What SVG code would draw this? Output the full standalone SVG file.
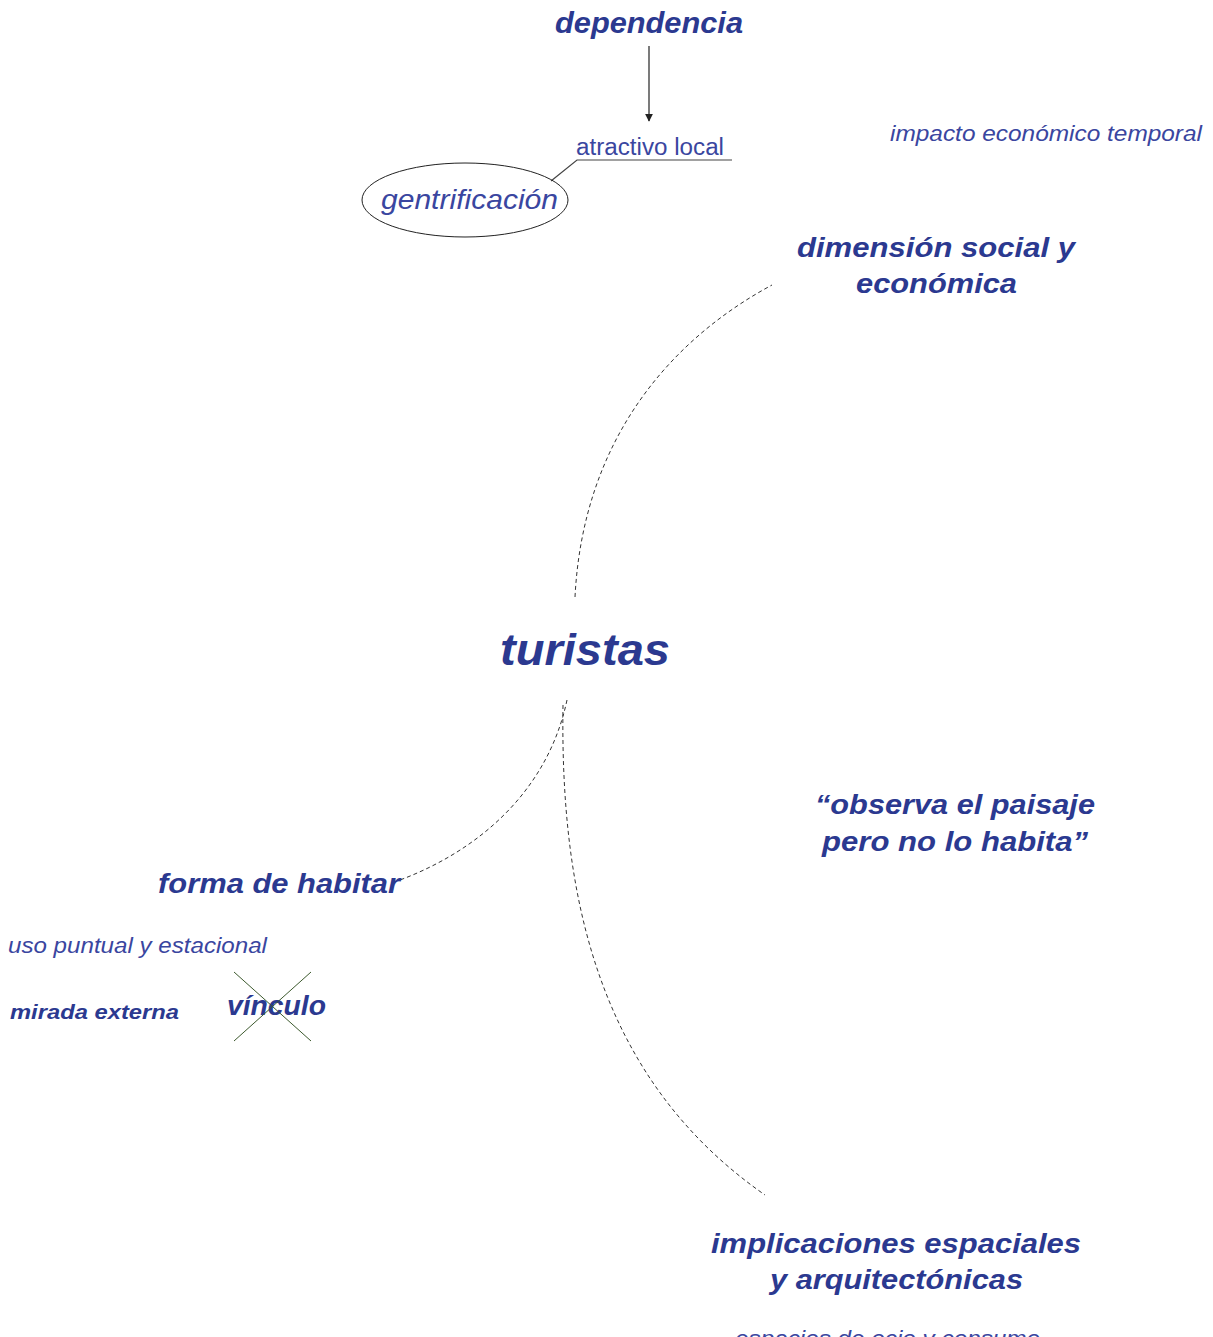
<svg xmlns="http://www.w3.org/2000/svg" width="1213" height="1337" viewBox="0 0 1213 1337">
<style>
.b{font-family:"Liberation Sans",Arial,sans-serif;font-weight:bold;font-style:italic;fill:#2b3990}
.l{font-family:"Liberation Sans",Arial,sans-serif;font-weight:normal;font-style:italic;fill:#3a46a0}
.r{font-family:"Liberation Sans",Arial,sans-serif;font-weight:normal;fill:#3a46a0}
.d{fill:none;stroke:#333;stroke-width:1;stroke-dasharray:4 3}
</style>
<defs>
<marker id="ah" viewBox="0 0 10 10" refX="9" refY="5" markerWidth="8" markerHeight="8" orient="auto" markerUnits="userSpaceOnUse">
<path d="M0,0 L10,5 L0,10 z" fill="#222"/>
</marker>
</defs>
<rect width="1213" height="1337" fill="#fff"/>
<g id="connectors">
<line x1="649" y1="46" x2="649" y2="121" stroke="#222" stroke-width="1.2" marker-end="url(#ah)"/>
<polyline points="732,160 577,160 551,181" fill="none" stroke="#444" stroke-width="1.2"/>
<path class="d" d="M575,597 C583,440 670,340 772,285"/>
<path class="d" d="M567,700 C548,790 480,850 400,880"/>
<path class="d" d="M563,705 C560,900 600,1080 765,1195"/>
</g>
<g id="dependencia"><text class="b" x="555" y="33" font-size="30" textLength="188" lengthAdjust="spacingAndGlyphs">dependencia</text></g>
<g id="atractivo"><text class="r" x="576" y="155" font-size="23" textLength="148" lengthAdjust="spacingAndGlyphs">atractivo local</text></g>
<g id="gentrificacion">
<ellipse cx="465" cy="200" rx="103" ry="37" fill="none" stroke="#222" stroke-width="1"/>
<text class="l" x="381" y="209" font-size="28" textLength="177" lengthAdjust="spacingAndGlyphs">gentrificación</text>
</g>
<g id="impacto"><text class="l" x="890" y="141" font-size="22" textLength="312" lengthAdjust="spacingAndGlyphs">impacto económico temporal</text></g>
<g id="dimension">
<text class="b" x="797" y="257" font-size="28" textLength="278" lengthAdjust="spacingAndGlyphs">dimensión social y</text>
<text class="b" x="856" y="293" font-size="28" textLength="161" lengthAdjust="spacingAndGlyphs">económica</text>
</g>
<g id="turistas"><text class="b" x="500" y="665" font-size="45" textLength="170" lengthAdjust="spacingAndGlyphs">turistas</text></g>
<g id="observa">
<text class="b" x="815" y="814" font-size="28" textLength="280" lengthAdjust="spacingAndGlyphs">“observa el paisaje</text>
<text class="b" x="822" y="851" font-size="28" textLength="266" lengthAdjust="spacingAndGlyphs">pero no lo habita”</text>
</g>
<g id="forma"><text class="b" x="158" y="893" font-size="28" textLength="242" lengthAdjust="spacingAndGlyphs">forma de habitar</text></g>
<g id="uso"><text class="l" x="8" y="953" font-size="22" textLength="259" lengthAdjust="spacingAndGlyphs">uso puntual y estacional</text></g>
<g id="mirada"><text class="b" x="10" y="1019" font-size="21" textLength="169" lengthAdjust="spacingAndGlyphs">mirada externa</text></g>
<g id="vinculo">
<text class="b" x="227" y="1015" font-size="27" textLength="99" lengthAdjust="spacingAndGlyphs">vínculo</text>
<line x1="234" y1="972" x2="311" y2="1041" stroke="#3d5a2e" stroke-width="1"/>
<line x1="311" y1="972" x2="234" y2="1041" stroke="#3d5a2e" stroke-width="1"/>
</g>
<g id="implicaciones">
<text class="b" x="711" y="1253" font-size="28" textLength="370" lengthAdjust="spacingAndGlyphs">implicaciones espaciales</text>
<text class="b" x="770" y="1289" font-size="28" textLength="253" lengthAdjust="spacingAndGlyphs">y arquitectónicas</text>
</g>
<g id="espacios"><text class="l" x="735" y="1346" font-size="22" textLength="305" lengthAdjust="spacingAndGlyphs">espacios de ocio y consumo</text></g>
</svg>
